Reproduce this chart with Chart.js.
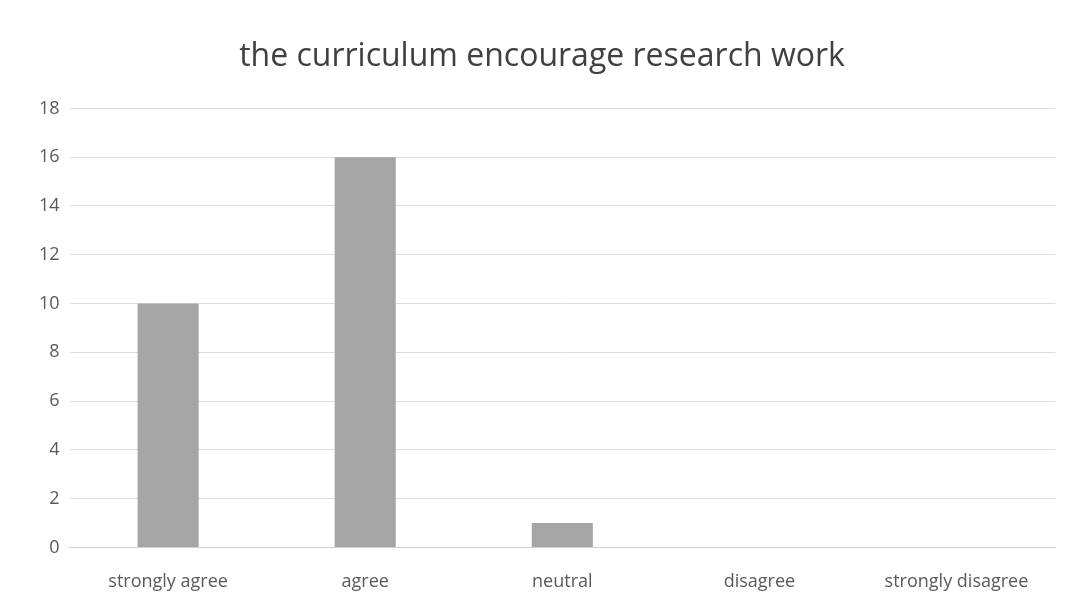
<!DOCTYPE html>
<html>
<head>
<meta charset="utf-8">
<script src="https://cdn.jsdelivr.net/npm/chart.js@4/dist/chart.umd.min.js"></script>
<style>
  html, body { margin: 0; padding: 0; background: #ffffff; }
  #wrap { width: 1071px; height: 607px; }
</style>
</head>
<body>
<div id="wrap"><canvas id="surveyChart" width="1071" height="607"></canvas></div>
<script>
// --- DATA ---
const categories = ['strongly agree', 'agree', 'neutral', 'disagree', 'strongly disagree'];
const responses = [10, 16, 1, 0, 0];
const yTicks = [0, 2, 4, 6, 8, 10, 12, 14, 16, 18];

const FONT = "'Open Sans', sans-serif";

const ctx = document.getElementById('surveyChart').getContext('2d');
new Chart(ctx, {
    type: 'bar',
    data: {
        labels: categories,
        datasets: [{
            label: 'responses',
            data: responses,
            backgroundColor: '#a5a5a5',
            borderWidth: 0,
            barPercentage: 0.31,
            categoryPercentage: 1
        }]
    },
    options: {
        responsive: false,
        animation: false,
        layout: { padding: { left: 29, right: 16, top: 38, bottom: -2 } },
        plugins: {
            legend: { display: false },
            tooltip: { enabled: false },
            title: {
                display: true,
                text: 'the curriculum encourage research work',
                color: '#404040',
                font: { family: FONT, size: 32, weight: 'normal' },
                padding: { top: 0, bottom: 32 }
            }
        },
        scales: {
            y: {
                min: 0,
                max: yTicks[yTicks.length - 1],
                afterBuildTicks: axis => { axis.ticks = yTicks.map(v => ({ value: v })); },
                grid: { color: '#dcdcdc', drawTicks: false },
                border: { display: false },
                ticks: { color: '#595959', font: { family: FONT, size: 18 }, padding: 10 }
            },
            x: {
                grid: { display: false },
                border: { color: '#d0d0d0' },
                ticks: { color: '#595959', font: { family: FONT, size: 18 }, padding: 16 }
            }
        }
    }
});
</script>
</body>
</html>
